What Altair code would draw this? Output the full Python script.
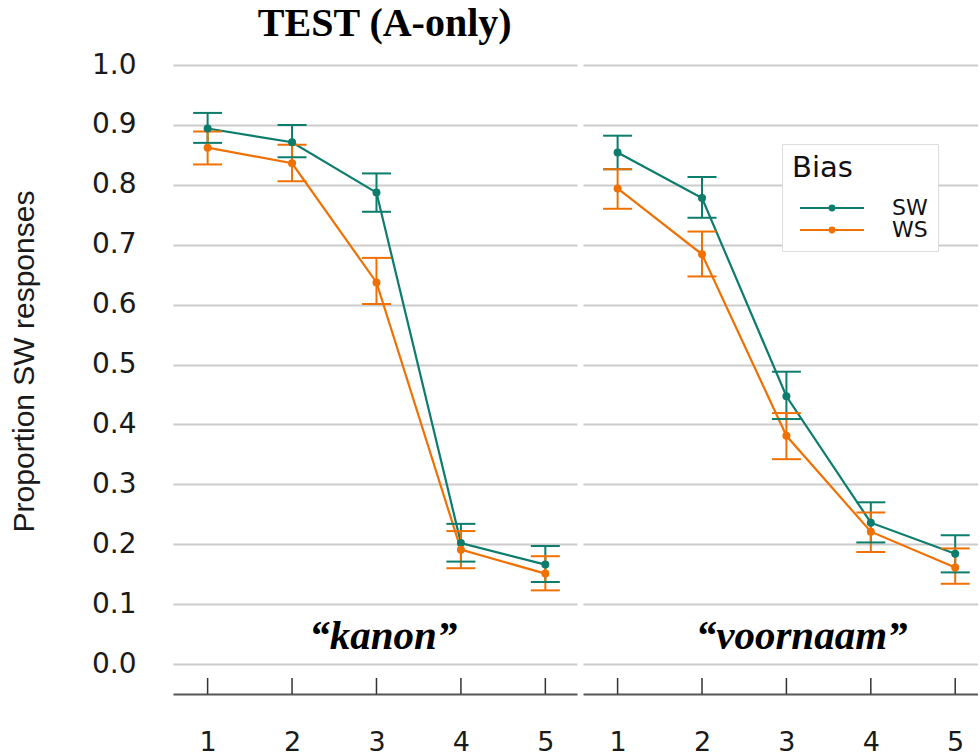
import altair as alt
import pandas as pd

# ---------------- data ----------------
X_VALUES = [1, 2, 3, 4, 5]
Y_TICKS = [0.0, 0.1, 0.2, 0.3, 0.4, 0.5, 0.6, 0.7, 0.8, 0.9, 1.0]
BIAS = ["SW", "WS"]
WORDS = ["kanon", "voornaam"]

KANON_SW = [0.894, 0.871, 0.787, 0.202, 0.166]
KANON_SW_LO = [0.870, 0.846, 0.755, 0.171, 0.137]
KANON_SW_HI = [0.920, 0.900, 0.819, 0.234, 0.197]
KANON_WS = [0.862, 0.836, 0.637, 0.191, 0.151]
KANON_WS_LO = [0.834, 0.806, 0.601, 0.160, 0.123]
KANON_WS_HI = [0.889, 0.867, 0.678, 0.222, 0.180]

VOORNAAM_SW = [0.854, 0.778, 0.447, 0.236, 0.184]
VOORNAAM_SW_LO = [0.826, 0.745, 0.409, 0.203, 0.153]
VOORNAAM_SW_HI = [0.882, 0.813, 0.488, 0.270, 0.215]
VOORNAAM_WS = [0.794, 0.684, 0.381, 0.221, 0.161]
VOORNAAM_WS_LO = [0.760, 0.647, 0.342, 0.187, 0.134]
VOORNAAM_WS_HI = [0.826, 0.722, 0.419, 0.253, 0.193]

TEAL = "#0C7C6C"
ORANGE = "#EF7104"
PANEL_H = 629


def long_table(word, series):
    rows = []
    for bias, (mean, lo, hi) in series.items():
        for x, m, l, h in zip(X_VALUES, mean, lo, hi):
            rows.append(dict(word=word, bias=bias, x=x, p=m, lo=l, hi=h))
    return pd.DataFrame(rows)


kanon_df = long_table("kanon", {"SW": (KANON_SW, KANON_SW_LO, KANON_SW_HI),
                                "WS": (KANON_WS, KANON_WS_LO, KANON_WS_HI)})
voornaam_df = long_table("voornaam", {"SW": (VOORNAAM_SW, VOORNAAM_SW_LO, VOORNAAM_SW_HI),
                                      "WS": (VOORNAAM_WS, VOORNAAM_WS_LO, VOORNAAM_WS_HI)})

color_scale = alt.Scale(domain=BIAS, range=[TEAL, ORANGE])

legend_obj = alt.Legend(
    title="Bias",
    orient="none",
    legendX=199,
    legendY=79,
    titleFont="DejaVu Sans",
    titleFontSize=29,
    titleFontWeight="normal",
    titleColor="#111111",
    titlePadding=14,
    labelFont="DejaVu Sans",
    labelFontSize=22,
    labelColor="#111111",
    labelOffset=49,
    symbolType="M-4,0H4M-0.3,0A0.3,0.3,0,1,0,0.3,0A0.3,0.3,0,1,0,-0.3,0",
    symbolSize=256,
    symbolStrokeWidth=2,
    symbolOffset=29,
    rowPadding=0,
    padding=10,
    strokeColor="#DDDDDD",
    fillColor="white",
)


def panel(df, word, label_x, x_max, width, first):
    xs = alt.Scale(domain=[0.59, x_max], nice=False, zero=False)
    ys = alt.Scale(domain=[-0.05, 1.0], nice=False, zero=False)
    x_axis = alt.Axis(values=X_VALUES, format="d", title=None, grid=False, ticks=False,
                      domain=True, domainColor="#555555", domainWidth=2,
                      labelPadding=35, labelFont="DejaVu Sans", labelFontSize=27,
                      labelColor="#1a1a1a", labelAngle=0)
    y_kwargs = dict(values=Y_TICKS, format=".1f", grid=True, gridColor="#CCCCCC", gridWidth=2,
                    ticks=False, domain=False, labels=first)
    if first:
        y_kwargs.update(dict(labelPadding=37, labelFont="DejaVu Sans", labelFontSize=28,
                             labelColor="#1a1a1a", title="Proportion SW responses",
                             titleFont="Liberation Sans", titleFontSize=30,
                             titleFontWeight="normal", titleColor="#1a1a1a",
                             titlePadding=52, titleY=296))
    else:
        y_kwargs.update(dict(title=None))
    y_axis = alt.Axis(**y_kwargs)

    if first:
        color = alt.Color("bias:N", scale=color_scale, legend=None)
    else:
        color = alt.Color("bias:N", scale=color_scale, legend=legend_obj)

    base = alt.Chart(df)
    x = alt.X("x:Q", scale=xs, axis=x_axis)
    line = base.mark_line(strokeWidth=2.2).encode(
        x=x, y=alt.Y("p:Q", scale=ys, axis=y_axis), color=color, detail="bias:N")
    bars = base.mark_rule(strokeWidth=2, opacity=1).encode(
        x="x:Q", y="lo:Q", y2="hi:Q", color=color)
    cap_lo = base.mark_tick(orient="horizontal", size=29, thickness=2, opacity=1).encode(
        x="x:Q", y="lo:Q", color=color)
    cap_hi = base.mark_tick(orient="horizontal", size=29, thickness=2, opacity=1).encode(
        x="x:Q", y="hi:Q", color=color)
    pts = base.mark_circle(size=64, opacity=1).encode(x="x:Q", y="p:Q", color=color)
    ticks = alt.Chart(pd.DataFrame({"x": X_VALUES})).mark_rule(
        color="#333333", strokeWidth=1.5).encode(
        x="x:Q", y=alt.value(PANEL_H - 16), y2=alt.value(PANEL_H))
    label = alt.Chart(pd.DataFrame({"word": [f"\u201c{word}\u201d"]})).mark_text(
        font="Liberation Serif", fontStyle="italic", fontWeight="bold", fontSize=41,
        baseline="alphabetic", align="center", color="black").encode(
        text="word:N", x=alt.datum(label_x), y=alt.datum(0.025))
    return alt.layer(line, bars, cap_lo, cap_hi, pts, ticks, label).properties(
        width=width, height=PANEL_H)


left = panel(kanon_df, WORDS[0], 3.08, 5.375, 404, True)
right = panel(voornaam_df, WORDS[1], 3.18, 5.27, 395, False)

chart = alt.hconcat(left, right, spacing=6).resolve_legend(color="independent").properties(
    title=alt.TitleParams(text="TEST (A-only)", font="Liberation Serif", fontSize=40,
                          fontWeight="bold", color="black", anchor="middle", dx=-109,
                          baseline="alphabetic", offset=-25),
    padding={"left": 9, "top": 4, "right": 0, "bottom": 0},
    background="white",
).configure_view(stroke=None)

chart.save("out.html", embed_options={"renderer": "svg", "actions": False})
